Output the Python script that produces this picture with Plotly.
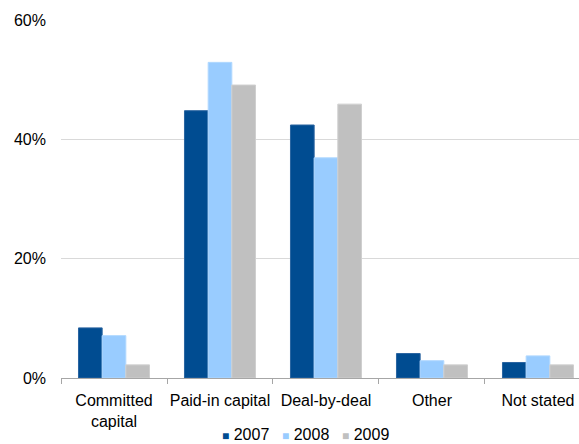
import plotly.graph_objects as go

categories = ["Committed<br>capital", "Paid-in capital", "Deal-by-deal", "Other", "Not stated"]
years = ["2007", "2008", "2009"]
v2007 = [8.4, 44.8, 42.4, 4.1, 2.6]
v2008 = [7.1, 52.9, 36.9, 2.9, 3.7]
v2009 = [2.2, 49.1, 45.9, 2.2, 2.2]
y_ticks = [0, 20, 40, 60]
y_tick_labels = ["0%", "20%", "40%", "60%"]

colors = ["#004C91", "#99CCFF", "#C0C0C0"]
edges = ["#2A64A0", "#B0D8FF", "#CFCFCF"]
series = [v2007, v2008, v2009]

fig = go.Figure()
for name, vals, c, e in zip(years, series, colors, edges):
    fig.add_trace(go.Bar(x=categories, y=vals, name=name,
                         marker=dict(color=c, line=dict(color=e, width=1)),
                         showlegend=False))
for name, c in zip(years, colors):
    label = f'<span style="color:{c};font-size:12px">\u25A0</span> {name}'
    fig.add_trace(go.Scatter(x=[None], y=[None], mode="markers", name=label,
                             marker=dict(symbol="square", size=1, color="rgba(0,0,0,0)")))
# spacer entry so the last legend label is not clipped
fig.add_trace(go.Scatter(x=[None], y=[None], mode="markers", name=" ",
                         marker=dict(size=1, color="rgba(0,0,0,0)")))

font = "Liberation Sans, Arial, sans-serif"
fig.update_layout(
    width=579, height=444,
    margin=dict(l=61, r=0, t=20, b=66, autoexpand=False),
    paper_bgcolor="white", plot_bgcolor="white",
    barmode="group", bargap=0.33, bargroupgap=0,
    font=dict(family=font, size=16, color="#000000"),
    showlegend=True,
    legend=dict(orientation="h", x=0.2336, xanchor="left", y=-0.156, yanchor="middle",
                font=dict(size=16), entrywidth=15, itemwidth=30,
                bgcolor="rgba(0,0,0,0)"),
    xaxis=dict(range=[-0.5, 4.387], showline=True, linecolor="#A6A6A6", linewidth=1,
               ticks="outside", tickson="boundaries", ticklen=5, tickcolor="#A6A6A6",
               showgrid=False, tickfont=dict(size=16), tickangle=0, automargin=False,
               ticklabelstandoff=8),
    yaxis=dict(range=[0, 60], tickvals=y_ticks, ticktext=y_tick_labels, showgrid=True,
               gridcolor="#D9D9D9", gridwidth=1, zeroline=False, showline=False,
               ticks="", ticklabelstandoff=14, tickfont=dict(size=16), automargin=False),
)
fig.write_html("out.html")
